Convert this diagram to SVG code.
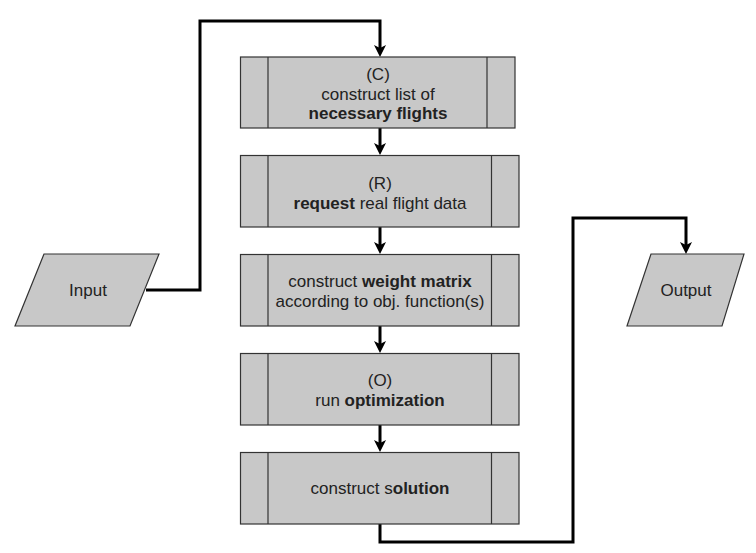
<svg xmlns="http://www.w3.org/2000/svg" width="756" height="553" viewBox="0 0 756 553">
<style>
.box{fill:#c8c8c8;stroke:#333333;stroke-width:1.2}
.div{stroke:#333333;stroke-width:1.2}
.io{fill:#c8c8c8;stroke:#333333;stroke-width:1.2}
.t{font-family:"Liberation Sans",Arial,sans-serif;font-size:17px;fill:#222222;text-anchor:middle}
.b{font-weight:bold}
.c{fill:none;stroke:#000000;stroke-width:3;stroke-linejoin:miter}
</style>
<defs>
<marker id="arr" markerUnits="userSpaceOnUse" markerWidth="12" markerHeight="13" viewBox="0 0 12 13" refX="3" refY="6.5" orient="auto">
<path d="M0,0.5 L12,6.5 L0,12.5 L3,6.5 z" fill="#000000"/>
</marker>
</defs>
<rect width="756" height="553" fill="#ffffff"/>
<g id="connectors">
<path class="c" d="M146,290 H200 V21 H380 V48" marker-end="url(#arr)"/>
<path class="c" d="M380,128 V146" marker-end="url(#arr)"/>
<path class="c" d="M380,227 V245" marker-end="url(#arr)"/>
<path class="c" d="M380,326 V344" marker-end="url(#arr)"/>
<path class="c" d="M380,425 V443" marker-end="url(#arr)"/>
<path class="c" d="M380,524 V542 H573 V218 H686 V245" marker-end="url(#arr)"/>
</g>
<g id="input">
<polygon class="io" points="44,254 159,254 130,326 15,326"/>
<text class="t" x="88" y="296">Input</text>
</g>
<g id="output">
<polygon class="io" points="651,254 744,254 722,326 627,326"/>
<text class="t" x="686" y="296">Output</text>
</g>
<g id="c-list">
<rect class="box" x="240.5" y="57" width="274.5" height="71"/>
<line class="div" x1="268" y1="57" x2="268" y2="128"/>
<line class="div" x1="487" y1="57" x2="487" y2="128"/>
<text class="t" x="378" y="80">(C)</text>
<text class="t" x="378" y="99.5">construct list of</text>
<text class="t b" x="378" y="119">necessary flights</text>
</g>
<g id="r-request">
<rect class="box" x="240.5" y="155.5" width="278.5" height="71.5"/>
<line class="div" x1="268" y1="155.5" x2="268" y2="227"/>
<line class="div" x1="491.5" y1="155.5" x2="491.5" y2="227"/>
<text class="t" x="380" y="189">(R)</text>
<text class="t" x="380" y="209"><tspan class="b">request</tspan> real flight data</text>
</g>
<g id="weight-matrix">
<rect class="box" x="240.5" y="254.5" width="278.5" height="71.5"/>
<line class="div" x1="268" y1="254.5" x2="268" y2="326"/>
<line class="div" x1="491.5" y1="254.5" x2="491.5" y2="326"/>
<text class="t" x="380" y="287">construct <tspan class="b">weight matrix</tspan></text>
<text class="t" x="380" y="307">according to obj. function(s)</text>
</g>
<g id="o-optimization">
<rect class="box" x="240.5" y="353.5" width="278.5" height="71.5"/>
<line class="div" x1="268" y1="353.5" x2="268" y2="425"/>
<line class="div" x1="491.5" y1="353.5" x2="491.5" y2="425"/>
<text class="t" x="380" y="386">(O)</text>
<text class="t" x="380" y="406">run <tspan class="b">optimization</tspan></text>
</g>
<g id="solution">
<rect class="box" x="240.5" y="452.5" width="278.5" height="71.5"/>
<line class="div" x1="268" y1="452.5" x2="268" y2="524"/>
<line class="div" x1="491.5" y1="452.5" x2="491.5" y2="524"/>
<text class="t" x="380" y="494">construct s<tspan class="b">olution</tspan></text>
</g>
</svg>
